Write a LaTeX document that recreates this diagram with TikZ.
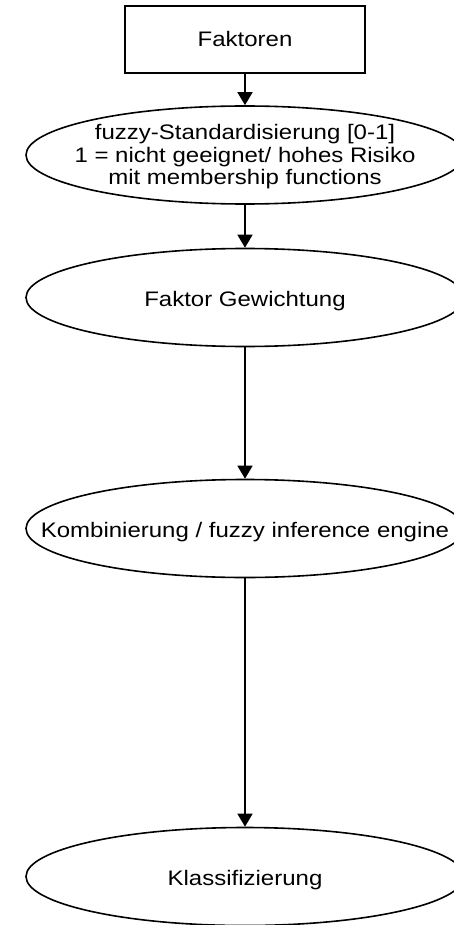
\documentclass[tikz,border=0pt]{standalone}
\usepackage{fontspec}
% glyphs are drawn slightly wide, as in the exported flowchart
\setmainfont{Liberation Sans}[FakeStretch=1.143]
\usetikzlibrary{shapes.geometric,arrows.meta}

\begin{document}
\begin{tikzpicture}[x=1pt,y=-1pt,
  every node/.style={font=\fontsize{21}{22.5}\selectfont, align=center, inner sep=0pt},
  stepbox/.style={draw, line width=1.6pt, minimum width=240pt, minimum height=67pt},
  stage/.style={draw, ellipse, line width=1.6pt, minimum width=438pt, minimum height=98pt},
  flow/.style={line width=1.6pt, -{Triangle[length=13pt,width=15pt]}}
]
  \useasboundingbox (0,0) rectangle (454,925);

  \node[stepbox] (faktoren) at (245,39.5) {};
  \node[anchor=base] (faktoren-text) at (245,46.7) {Faktoren};

  % ellipses are drawn empty so their size stays fixed; the labels sit on top
  \node[stage] (standard) at (245,155) {};
  \node[stage] (gewicht) at (245,297.5) {};
  \node[stage] (kombi) at (245,528.5) {};
  \node[stage] (klass) at (245,876.5) {};

  \node (standard-text) at (245,157)
    {fuzzy-Standardisierung [0-1]\\1 = nicht geeignet/ hohes Risiko\\mit membership functions};
  \node[anchor=base] (gewicht-text) at (245,306) {Faktor Gewichtung};
  \node[anchor=base] (kombi-text) at (245,537.5) {Kombinierung / fuzzy inference engine};
  \node[anchor=base] (klass-text) at (245,885) {Klassifizierung};

  \draw[flow] (faktoren) -- (standard);
  \draw[flow] (standard) -- (gewicht);
  \draw[flow] (gewicht) -- (kombi);
  \draw[flow] (kombi) -- (klass);
\end{tikzpicture}
\end{document}
